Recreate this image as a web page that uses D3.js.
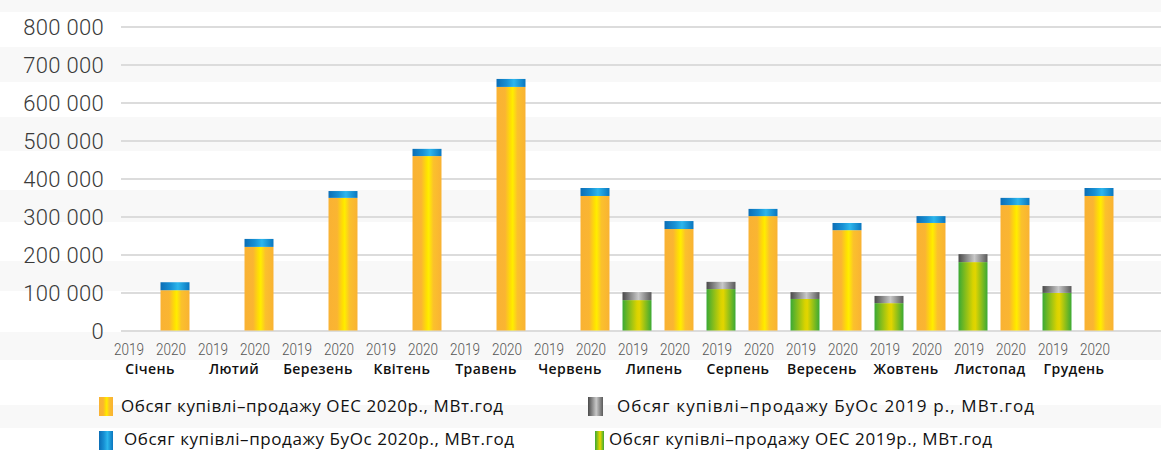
<!DOCTYPE html>
<html>
<head>
<meta charset="utf-8">
<script src="https://cdn.jsdelivr.net/npm/d3@7"></script>
<style>
  body { margin: 0; background: #fff; }
  svg { display: block; }
</style>
</head>
<body>
<div id="chart"></div>
<script>
// data, MWh
const months = ['Січень', 'Лютий', 'Березень', 'Квітень', 'Травень', 'Червень',
                'Липень', 'Серпень', 'Вересень', 'Жовтень', 'Листопад', 'Грудень'];
const years = ['2019', '2020'];
const oes2020  = [106000, 220000, 349000, 459000, 641000, 354000, 267000, 301000, 264000, 283000, 330000, 354000];
const buos2020 = [21000, 21000, 18000, 19000, 21000, 21000, 21000, 19000, 19000, 18000, 19000, 21000];
const oes2019  = [null, null, null, null, null, null, 80000, 109000, 83000, 72000, 180000, 99000];
const buos2019 = [null, null, null, null, null, null, 21000, 19000, 18000, 19000, 21000, 18000];
const yTicks = [0, 100000, 200000, 300000, 400000, 500000, 600000, 700000, 800000];
const legendLabels = [
  'Обсяг купівлі–продажу ОЕС 2020р., МВт.год',
  'Обсяг купівлі–продажу БуОс 2019 р., МВт.год',
  'Обсяг купівлі–продажу БуОс 2020р., МВт.год',
  'Обсяг купівлі–продажу ОЕС 2019р., МВт.год'
];

const W = 1161, H = 450;
const svg = d3.select('#chart').append('svg')
  .attr('width', W).attr('height', H);

// gradients
const defs = svg.append('defs');
let addGrad = (id, stops) => {
  const g = defs.append('linearGradient').attr('id', id)
    .attr('x1', '0%').attr('x2', '100%').attr('y1', '0%').attr('y2', '0%');
  stops.forEach(s => g.append('stop').attr('offset', s[0]).attr('stop-color', s[1]));
};
addGrad('g-orange', [['0%', '#f9b233'], ['30%', '#fab532'], ['50%', '#ffe200'], ['56%', '#ffed00'], ['72%', '#fbc12c'], ['100%', '#f9b233']]);
addGrad('g-blue', [['0%', '#0b6db5'], ['35%', '#1790d4'], ['60%', '#2cb6ec'], ['100%', '#0a76bf']]);
addGrad('g-gray', [['0%', '#4a4a4a'], ['55%', '#c8c8c8'], ['100%', '#5a5a5a']]);
addGrad('g-green', [['0%', '#3aa935'], ['50%', '#d9d300'], ['58%', '#e2d500'], ['100%', '#3aa935']]);

// background stripes
const stripes = [[0, 12], [47, 82], [117, 151], [190, 222], [261, 291], [332, 360], [405, 428]];
svg.append('g').selectAll('rect').data(stripes).enter().append('rect')
  .attr('x', 0).attr('width', W)
  .attr('y', d => d[0]).attr('height', d => d[1] - d[0])
  .attr('fill', '#f8f8f8');

// scales
const y = d3.scaleLinear().domain([0, 800000]).range([330.5, 26.5]);
const x0 = d3.scaleBand().domain(months).range([112, 1120]);
const x1 = d3.scaleBand().domain(years).range([0, x0.bandwidth()])
  .paddingInner(0.31).paddingOuter(0.155);

// y axis + grid
const yAxisGroup = svg.append('g').attr('transform', 'translate(121,0)');
yAxisGroup.call(d3.axisLeft(y).tickValues(yTicks).tickSize(-(W - 121)).tickPadding(17)
  .tickFormat(d => d3.format(',')(d).replace(/,/g, ' ')));
yAxisGroup.select('.domain').remove();
yAxisGroup.selectAll('.tick line').attr('stroke', '#dcdcdc').attr('stroke-width', 2);
yAxisGroup.selectAll('.tick text')
  .attr('font-family', 'Roboto, sans-serif').attr('font-weight', 300)
  .attr('font-size', '22px').attr('fill', '#3a3a3a').attr('dy', '0.36em')
  .attr('letter-spacing', '0.3px');

// bars
const rows = months.map((m, i) => ({
  month: m,
  stacks: [
    { year: '2019', base: oes2019[i], top: buos2019[i], baseFill: 'url(#g-green)', topFill: 'url(#g-gray)' },
    { year: '2020', base: oes2020[i], top: buos2020[i], baseFill: 'url(#g-orange)', topFill: 'url(#g-blue)' }
  ]
}));

const monthG = svg.append('g').selectAll('g').data(rows).enter().append('g')
  .attr('transform', d => 'translate(' + x0(d.month) + ',0)');

const stackG = monthG.selectAll('g').data(d => d.stacks.filter(s => s.base != null)).enter().append('g');
stackG.append('rect')
  .attr('x', d => x1(d.year)).attr('width', x1.bandwidth())
  .attr('y', d => y(d.base)).attr('height', d => y(0) - y(d.base))
  .attr('fill', d => d.baseFill);
stackG.append('rect')
  .attr('x', d => x1(d.year)).attr('width', x1.bandwidth())
  .attr('y', d => y(d.base + d.top)).attr('height', d => y(d.base) - y(d.base + d.top))
  .attr('fill', d => d.topFill);

// year labels
monthG.selectAll('text.year').data(years).enter().append('text')
  .attr('class', 'year')
  .attr('x', d => x1(d) + x1.bandwidth() / 2 - 4)
  .attr('y', 355)
  .attr('text-anchor', 'middle')
  .attr('font-family', 'Roboto, sans-serif').attr('font-weight', 300)
  .attr('font-size', '16px').attr('fill', '#555')
  .attr('textLength', 30).attr('lengthAdjust', 'spacingAndGlyphs')
  .text(d => d);

// month labels
monthG.append('text')
  .attr('x', x0.bandwidth() / 2 - 4)
  .attr('y', 374)
  .attr('text-anchor', 'middle')
  .attr('font-family', '"Open Sans", sans-serif').attr('font-weight', 600)
  .attr('font-size', '14px').attr('fill', '#111')
  .attr('letter-spacing', '0.4px')
  .text(d => d.month);

// legend
const legendItems = [
  { label: legendLabels[0], fill: 'url(#g-orange)', sx: 99, sw: 14, sy: 397, tx: 121, ty: 412, tw: 382 },
  { label: legendLabels[1], fill: 'url(#g-gray)', sx: 588, sw: 15, sy: 397, tx: 617, ty: 412, tw: 417 },
  { label: legendLabels[2], fill: 'url(#g-blue)', sx: 99, sw: 14, sy: 431, tx: 124, ty: 445, tw: 390 },
  { label: legendLabels[3], fill: 'url(#g-green)', sx: 595, sw: 9, sy: 431, tx: 609, ty: 445, tw: 383 }
];
const leg = svg.append('g').selectAll('g').data(legendItems).enter().append('g');
leg.append('rect')
  .attr('x', d => d.sx).attr('y', d => d.sy)
  .attr('width', d => d.sw).attr('height', 19)
  .attr('fill', d => d.fill);
leg.append('text')
  .attr('x', d => d.tx).attr('y', d => d.ty)
  .attr('font-family', '"Open Sans", sans-serif')
  .attr('font-size', '17px').attr('fill', '#111')
  .attr('textLength', d => d.tw).attr('lengthAdjust', 'spacing')
  .text(d => d.label);
</script>
</body>
</html>
